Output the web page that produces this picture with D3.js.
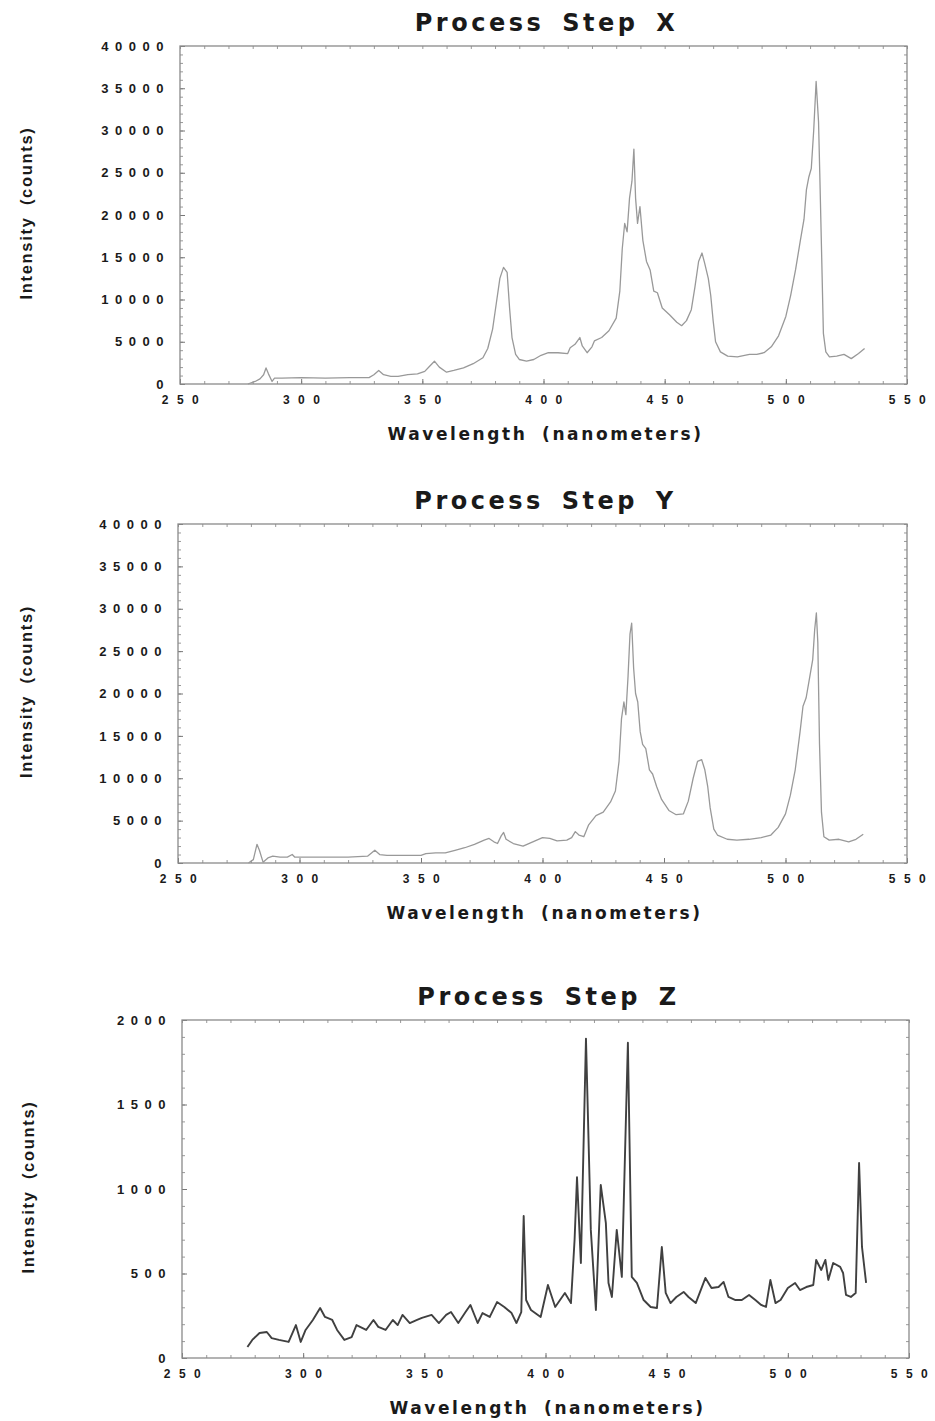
<!DOCTYPE html>
<html>
<head>
<meta charset="utf-8">
<script src="https://cdn.jsdelivr.net/npm/d3@7"></script>
<style>
  body { margin: 0; background: #fff; }
  svg { display: block; }
  text { font-family: "Liberation Sans", Arial, sans-serif; fill: #1a1a1a; }
  text.heavy { font-family: "DejaVu Sans", "Liberation Sans", sans-serif; }
</style>
</head>
<body>
<svg width="935" height="1421"></svg>
<script>
// ---- data ----
var waveTicks = [250, 300, 350, 400, 450, 500, 550];
var countTicksBig = [0, 5000, 10000, 15000, 20000, 25000, 30000, 35000, 40000];
var countTicksZ = [0, 500, 1000, 1500, 2000];

var xWave = [278, 281, 283, 284.5, 285.5, 286.5, 288, 289, 292, 300, 310, 320, 328, 330, 332, 334, 337, 340, 344, 348,
  351, 353, 355, 357, 360, 363, 367, 371, 375, 377, 379, 380.5, 382, 383.5, 385, 386, 387, 388.5, 390, 393,
  396, 399, 402, 406, 410, 411, 413, 415, 416, 418, 420, 421, 424, 427, 430, 431.5, 432.5, 433.5, 434.5, 435.5,
  436.5, 437.3, 438, 438.8, 439.8, 441, 442.5, 444, 445.5, 447, 449, 452, 455, 457, 459, 461, 462.5, 464, 465.4, 466.5,
  468, 469, 470, 471, 473, 476, 480, 485, 488, 491, 494, 497, 500, 502, 504, 506, 507.5, 508.5, 509.5, 510.5,
  511.5, 512.5, 513.5, 514, 514.8, 515.5, 516.5, 518, 521, 524, 527, 530, 532.5];
var xCounts = [0, 300, 600, 1100, 1900, 1200, 300, 700, 700, 750, 700, 750, 750, 1100, 1600, 1100, 900, 900, 1100, 1200,
  1500, 2100, 2700, 2000, 1400, 1600, 1900, 2400, 3100, 4200, 6500, 9500, 12500, 13800, 13200, 9000, 5500, 3500, 2900, 2700,
  2900, 3400, 3700, 3700, 3600, 4300, 4700, 5500, 4500, 3700, 4400, 5100, 5500, 6300, 7800, 11000, 16000, 19000, 18000, 22000,
  24000, 27800, 22000, 19000, 21000, 17000, 14500, 13500, 11000, 10800, 9000, 8200, 7300, 6900, 7500, 8800, 11500, 14500, 15500, 14300,
  12500, 10500, 7500, 5000, 3800, 3300, 3200, 3500, 3500, 3700, 4400, 5700, 8000, 10500, 13500, 17000, 19500, 23000, 24500, 25500,
  30000, 35800, 31000, 25000, 15000, 6000, 3800, 3200, 3300, 3500, 3000, 3600, 4200];

var yWave = [279, 281, 282.5, 283.5, 285, 287, 289, 292, 295, 297, 298, 300, 310, 320, 328, 331, 333, 336, 340, 345,
  350, 352, 356, 360, 364, 368, 372, 376, 378, 380, 381.5, 383, 384, 385, 388, 392, 396, 400, 403, 406,
  410, 412, 413.5, 415, 417, 419, 422, 425, 428, 430, 431.5, 432.5, 433.5, 434.3, 435.2, 436, 436.7, 437.5, 438.3, 439.2,
  440.2, 441.2, 442.5, 444, 445.3, 447, 449, 452, 455, 458, 460, 462, 463.8, 465.5, 466.8, 468, 469, 470.5, 472, 476,
  480, 485, 490, 494, 497, 500, 502, 504, 506, 507.2, 508.5, 510, 511.2, 512, 512.7, 513.3, 514, 514.8, 515.8, 518,
  522, 526, 529, 532];
var yCounts = [0, 400, 2200, 1500, 100, 600, 800, 700, 700, 1000, 700, 700, 700, 700, 800, 1500, 1000, 900, 900, 900,
  900, 1100, 1200, 1200, 1500, 1800, 2200, 2700, 2900, 2500, 2300, 3200, 3600, 2800, 2300, 2000, 2500, 3000, 2900, 2600,
  2700, 3000, 3700, 3300, 3100, 4500, 5600, 6000, 7200, 8500, 12000, 17000, 19000, 17500, 22000, 27000, 28300, 23000, 20000, 19000,
  15500, 14000, 13500, 11000, 10500, 9000, 7500, 6200, 5700, 5800, 7300, 10000, 12000, 12200, 11000, 9000, 6500, 4000, 3300, 2800,
  2700, 2800, 3000, 3300, 4200, 5800, 8000, 11000, 15500, 18500, 19500, 22000, 24000, 27500, 29500, 26000, 14000, 6000, 3100, 2700,
  2800, 2500, 2800, 3400];

var zWave = [277, 279, 282, 285, 287, 290, 294, 297, 299, 301, 304, 307, 309, 312, 314, 317, 320, 322, 326, 329,
  331, 334, 337, 339, 341, 344, 347, 349, 353, 356, 359, 361, 364, 367, 369, 372, 374, 377, 380, 383,
  386, 388, 390, 391, 392, 394, 398, 401, 404, 408, 410.5, 412, 413, 414.6, 416.7, 418.7, 420.8, 422.8, 424.9, 426,
  427.4, 429.4, 431.5, 434, 435.6, 437.7, 440.5, 443.4, 446, 448, 449.6, 451.6, 454, 457, 459, 462, 466, 468.5, 471.4, 473.5,
  475.5, 478.4, 481, 484, 486.6, 489, 491, 492.8, 494.9, 497, 500, 503, 505, 507.6, 510.5, 511.7, 513.8, 515.5, 516.7, 518.7,
  521.6, 522.8, 524, 526, 528, 529.4, 530.6, 532.3];
var zCounts = [65, 107, 148, 154, 118, 107, 95, 195, 95, 166, 225, 296, 243, 225, 166, 107, 124, 195, 166, 225,
  184, 166, 225, 195, 255, 207, 225, 237, 255, 207, 255, 272, 207, 272, 314, 207, 266, 243, 331, 302,
  266, 207, 272, 840, 343, 284, 243, 432, 302, 385, 325, 700, 1070, 562, 1890, 758, 284, 1024, 800, 444,
  361, 758, 480, 1865, 480, 444, 343, 302, 296, 657, 385, 325, 361, 391, 361, 325, 474, 414, 420, 450,
  361, 343, 343, 373, 343, 314, 302, 462, 325, 343, 414, 444, 402, 420, 432, 580, 521, 580, 462, 562,
  539, 503, 373, 361, 385, 1154, 657, 444];

var svg = d3.select("svg");

function drawPanel(p) {
    var width = p.right - p.left,
        height = p.bottom - p.top;
    var g = svg.append("g").attr("transform", "translate(" + p.left + "," + p.top + ")");

    var x = d3.scaleLinear().domain([250, 550]).range([0, width]);
    var y = d3.scaleLinear().domain([0, p.ymax]).range([height, 0]);

    // minor ticks all round the frame, pointing inwards
    var minorX = d3.range(250, 551, 10);
    var minorY = d3.range(0, p.ymax + 1, p.minorStep);
    g.append("g").attr("class", "minor").attr("transform", "translate(0," + height + ")")
        .call(d3.axisBottom(x).tickValues(minorX).tickSize(-3).tickFormat(""));
    g.append("g").attr("class", "minor")
        .call(d3.axisTop(x).tickValues(minorX).tickSize(-3).tickFormat(""));
    g.append("g").attr("class", "minor")
        .call(d3.axisLeft(y).tickValues(minorY).tickSize(-3).tickFormat(""));
    g.append("g").attr("class", "minor").attr("transform", "translate(" + width + ",0)")
        .call(d3.axisRight(y).tickValues(minorY).tickSize(-3).tickFormat(""));
    g.selectAll(".minor path").remove();
    g.selectAll(".minor line").attr("stroke", "#999").attr("stroke-width", 1);

    // tick labels (spaced out like the old plotter font)
    var ax = g.append("g").attr("class", "lab").attr("transform", "translate(0," + height + ")")
        .call(d3.axisBottom(x).tickValues(waveTicks).tickSize(5).tickPadding(6).tickFormat(d3.format("d")));
    ax.selectAll("line").attr("y2", -5).attr("stroke", "#777");
    ax.selectAll("text").attr("font-size", 12).attr("font-weight", "bold")
        .style("letter-spacing", "8.5px").attr("dx", 4).attr("fill", "#2a2a2a");

    var ay = g.append("g").attr("class", "lab")
        .call(d3.axisLeft(y).tickValues(p.yticks).tickSize(5).tickPadding(5).tickFormat(d3.format("d")));
    ay.selectAll("line").attr("x2", 5).attr("stroke", "#777");
    ay.selectAll("text").attr("font-size", 13).attr("font-weight", "bold")
        .style("letter-spacing", p.ls + "px").attr("fill", "#2a2a2a");
    g.selectAll(".lab path").remove();

    // frame
    g.append("rect").attr("width", width).attr("height", height)
        .attr("fill", "none").attr("stroke", "#8a8a8a").attr("stroke-width", 1.3);

    // spectrum
    var pts = p.wave.map(function(w, i) { return [w, p.counts[i]]; });
    var line = d3.line().x(function(d) { return x(d[0]); }).y(function(d) { return y(d[1]); });
    g.append("path").datum(pts).attr("d", line)
        .attr("fill", "none").attr("stroke", p.color).attr("stroke-width", p.lw)
        .attr("stroke-linejoin", "round");

    // titles
    svg.append("text").attr("class", "heavy").attr("x", (p.left + p.right) / 2 + 3).attr("y", p.top - 15)
        .attr("text-anchor", "middle").attr("font-size", 24).attr("font-weight", "bold")
        .style("letter-spacing", "3.5px").style("word-spacing", "6px")
        .text(p.title);
    svg.append("text").attr("class", "heavy").attr("x", (p.left + p.right) / 2 + 2).attr("y", p.bottom + 56)
        .attr("text-anchor", "middle").attr("font-size", 17).attr("font-weight", "bold")
        .style("letter-spacing", "2.6px").style("word-spacing", "6px")
        .text("Wavelength (nanometers)");
    svg.append("text")
        .attr("transform", "translate(" + (p.ylabX) + "," + ((p.top + p.bottom) / 2 + p.ylabDy) + ") rotate(-90)")
        .attr("text-anchor", "middle").attr("font-size", 16.5).attr("font-weight", "bold")
        .style("letter-spacing", "1.7px").style("word-spacing", "5px")
        .text("Intensity (counts)");
}

drawPanel({ title: "Process Step X", left: 180, right: 907, top: 46, bottom: 384, ymax: 40000, minorStep: 1000,
    yticks: countTicksBig, ls: 6.5, wave: xWave, counts: xCounts, color: "#999", lw: 1.3, ylabX: 32, ylabDy: -2 });
drawPanel({ title: "Process Step Y", left: 178, right: 907, top: 524, bottom: 863, ymax: 40000, minorStep: 1000,
    yticks: countTicksBig, ls: 6.5, wave: yWave, counts: yCounts, color: "#999", lw: 1.3, ylabX: 32, ylabDy: -2 });
drawPanel({ title: "Process Step Z", left: 182, right: 909, top: 1020, bottom: 1358, ymax: 2000, minorStep: 100,
    yticks: countTicksZ, ls: 6.5, wave: zWave, counts: zCounts, color: "#404040", lw: 1.9, ylabX: 34, ylabDy: -2 });
</script>
</body>
</html>
